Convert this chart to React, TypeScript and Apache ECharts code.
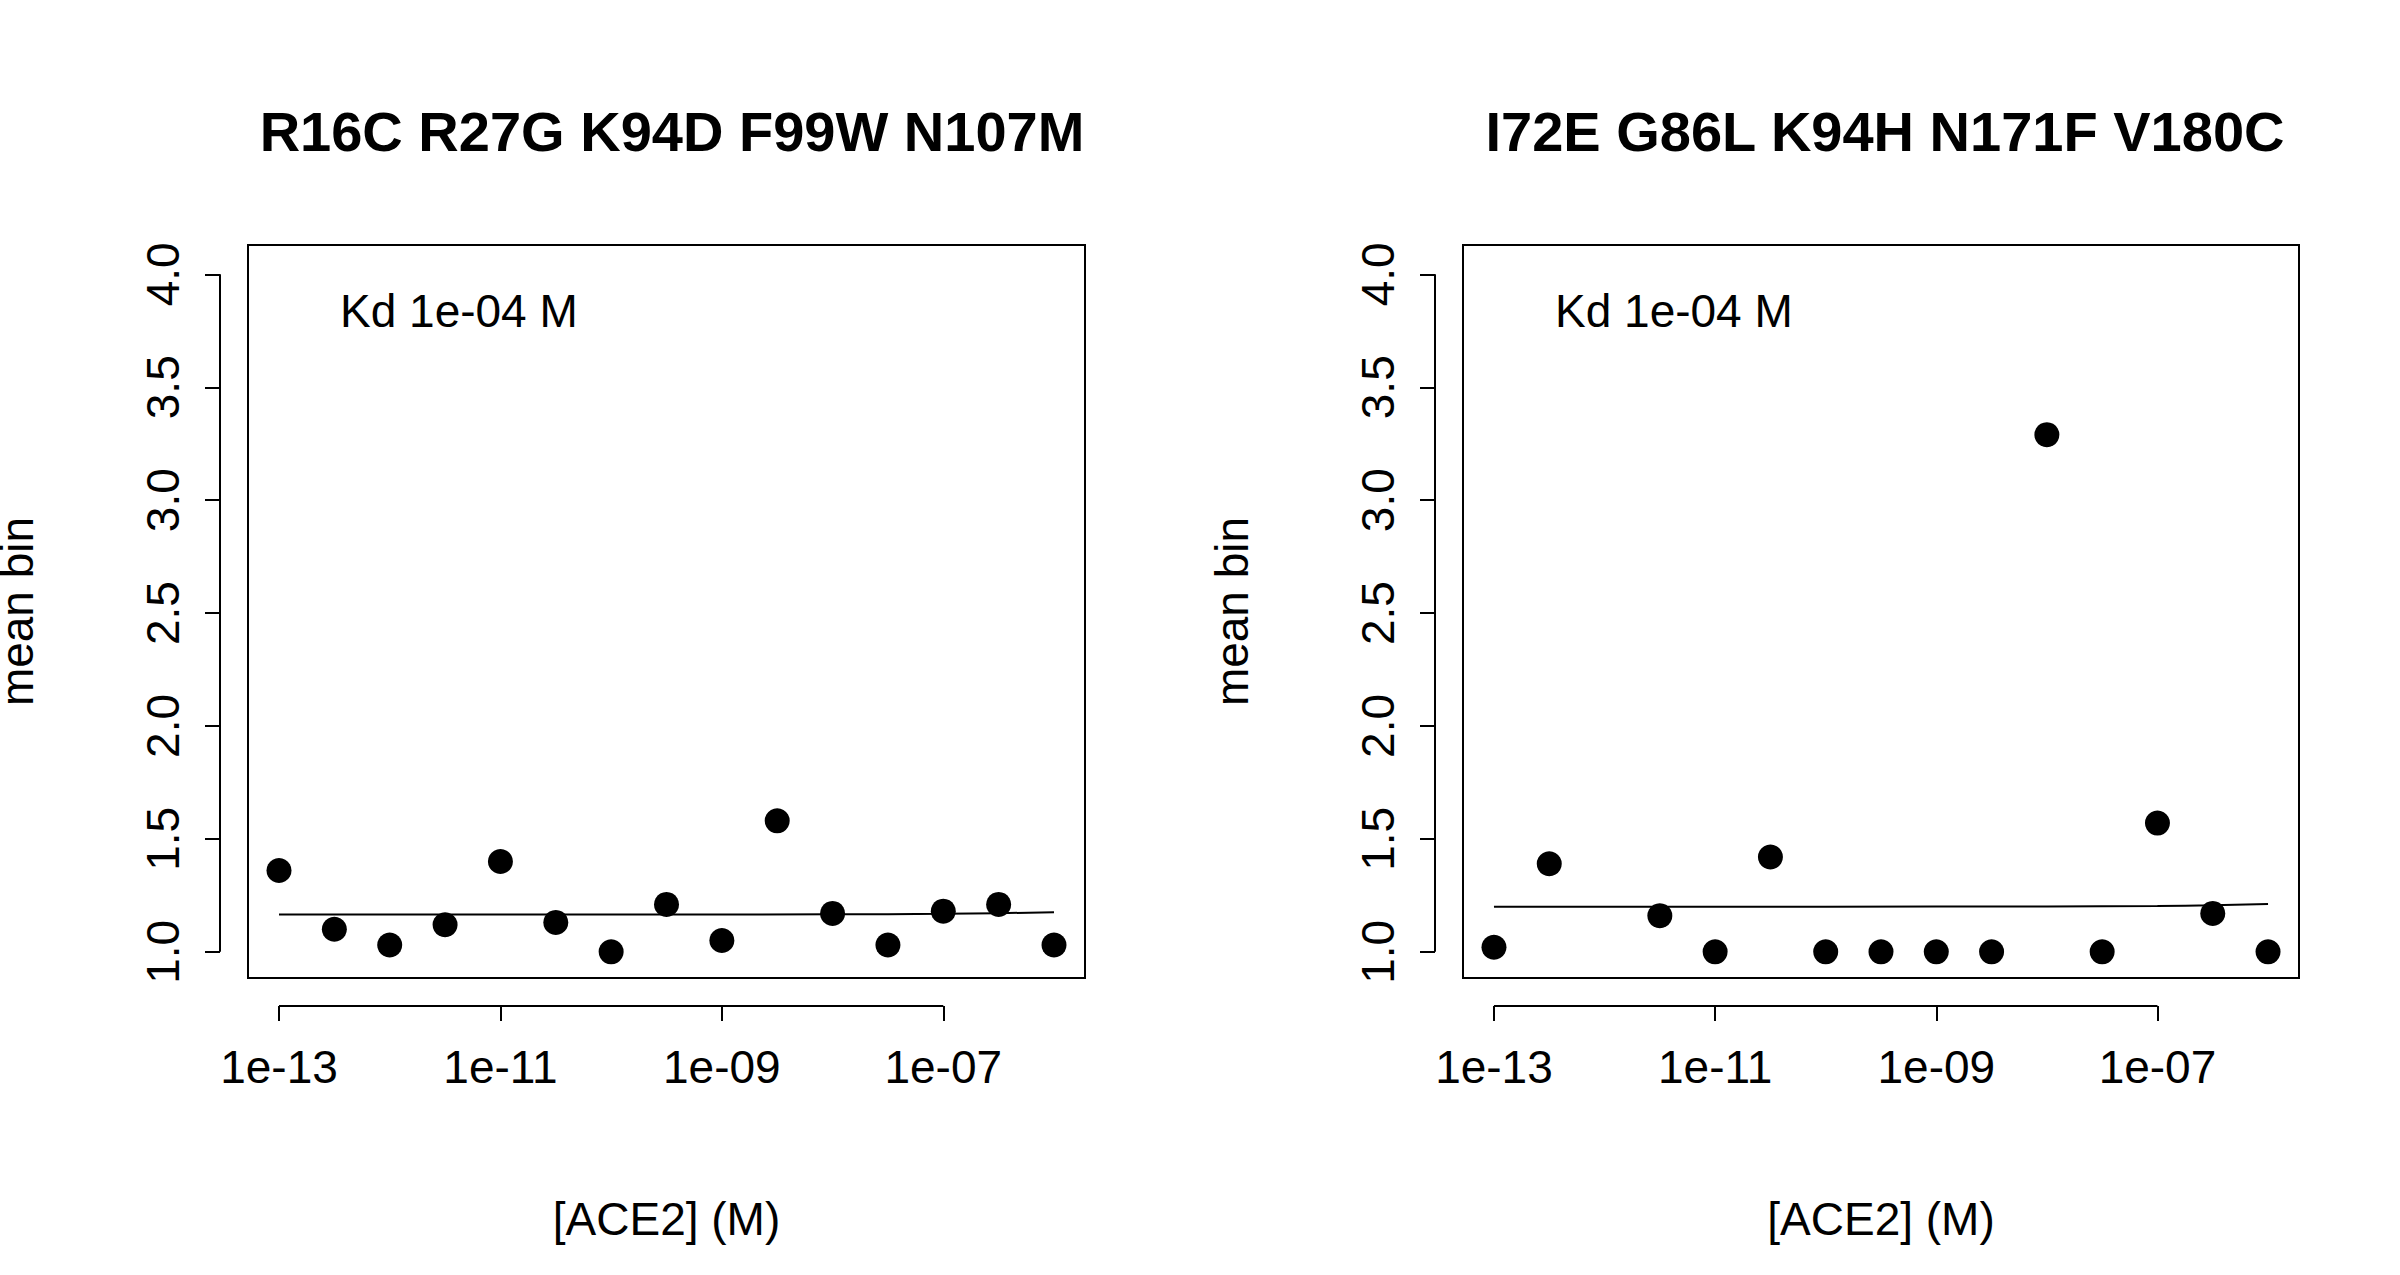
import React, { useEffect, useRef } from 'react';
import * as echarts from 'echarts';

// log10 of [ACE2] (M)
const leftExp = [-13, -12.5, -12, -11.5, -11, -10.5, -10, -9.5, -9, -8.5, -8, -7.5, -7, -6.5, -6];
const leftBin = [1.36, 1.10, 1.03, 1.12, 1.40, 1.13, 1.00, 1.21, 1.05, 1.58, 1.17, 1.03, 1.18, 1.21, 1.03];
const rightExp = [-13, -12.5, -11.5, -11, -10.5, -10, -9.5, -9, -8.5, -8, -7.5, -7, -6.5, -6];
const rightBin = [1.02, 1.39, 1.16, 1.00, 1.42, 1.00, 1.00, 1.00, 1.00, 3.29, 1.00, 1.57, 1.17, 1.00];
const fitExp = [-13, -10, -8, -7, -6.5, -6];
const leftFit = [1.165, 1.165, 1.166, 1.168, 1.171, 1.175];
const rightFit = [1.200, 1.200, 1.201, 1.203, 1.206, 1.212];
const titles = ['R16C R27G K94D F99W N107M', 'I72E G86L K94H N171F V180C'];
const kdLabel = 'Kd 1e-04 M';
const xTicks = [-13, -11, -9, -7];
const yTicks = [1, 1.5, 2, 2.5, 3, 3.5, 4];

const FONT = 'Liberation Sans, Arial, sans-serif';

const App: React.FC = () => {
  const ref = useRef<HTMLDivElement>(null);

  useEffect(() => {
    document.body.style.margin = '0';
    const chart = echarts.init(ref.current!, undefined, { renderer: 'svg' });
    const grids = [
      { left: 248, top: 245, width: 837, height: 733 },
      { left: 1463, top: 245, width: 836, height: 733 },
    ];
    const xAxis = grids.map((_, i) => ({
      type: 'value', gridIndex: i, min: -13.28, max: -5.72, offset: 28,
      axisLine: { show: false }, splitLine: { show: false },
      axisTick: { show: true, length: 15, lineStyle: { color: '#000', width: 2 }, customValues: xTicks },
      axisLabel: {
        customValues: xTicks, color: '#000', fontSize: 46, fontFamily: FONT, margin: 38,
        formatter: (v: number) => '1e-' + String(-v).padStart(2, '0'),
      },
      name: '[ACE2] (M)', nameLocation: 'middle', nameGap: 190,
      nameTextStyle: { color: '#000', fontSize: 46, fontFamily: FONT },
    }));
    const yAxis = grids.map((_, i) => ({
      type: 'value', gridIndex: i, min: 0.884, max: 4.13, offset: 28,
      axisLine: { show: false }, splitLine: { show: false },
      axisTick: { show: true, length: 15, lineStyle: { color: '#000', width: 2 }, customValues: yTicks },
      axisLabel: {
        customValues: yTicks, color: '#000', fontSize: 46, fontFamily: FONT, margin: 34, rotate: 90,
        formatter: (v: number) => v.toFixed(1),
      },
      name: 'mean bin', nameLocation: 'middle', nameGap: 180,
      nameTextStyle: { color: '#000', fontSize: 46, fontFamily: FONT },
    }));
    const scatter = (i: number, xs: number[], ys: number[]) => ({
      type: 'scatter', xAxisIndex: i, yAxisIndex: i, symbolSize: 25,
      itemStyle: { color: '#000', opacity: 1 }, data: xs.map((x, k) => [x, ys[k]]),
    });
    const fit = (i: number, ys: number[]) => ({
      type: 'line', xAxisIndex: i, yAxisIndex: i, showSymbol: false, smooth: true,
      lineStyle: { color: '#000', width: 2 }, data: fitExp.map((x, k) => [x, ys[k]]),
    });
    chart.setOption({
      animation: false,
      backgroundColor: '#fff',
      title: titles.map((t, i) => ({
        text: t, left: i === 0 ? 667 : 1880, top: 98, textAlign: 'center',
        textStyle: { fontSize: 56, fontWeight: 'bold', color: '#000', fontFamily: FONT },
      })),
      grid: grids.map(g => ({
        ...g, show: true, borderColor: '#000', borderWidth: 2, backgroundColor: 'transparent',
        containLabel: false, outerBoundsMode: 'none',
      })),
      xAxis, yAxis,
      series: [scatter(0, leftExp, leftBin), fit(0, leftFit), scatter(1, rightExp, rightBin), fit(1, rightFit)],
    });

    const lines: any[] = [];
    grids.forEach((g, i) => {
      const a = chart.convertToPixel({ xAxisIndex: i, yAxisIndex: i }, [xTicks[0], yTicks[0]]);
      const b = chart.convertToPixel({ xAxisIndex: i, yAxisIndex: i }, [xTicks[xTicks.length - 1], yTicks[yTicks.length - 1]]);
      const by = g.top + g.height + 28;
      const lx = g.left - 28;
      lines.push({ type: 'line', shape: { x1: a[0], y1: by, x2: b[0], y2: by }, style: { stroke: '#000', lineWidth: 2 } });
      lines.push({ type: 'line', shape: { x1: lx, y1: a[1], x2: lx, y2: b[1] }, style: { stroke: '#000', lineWidth: 2 } });
      lines.push({
        type: 'text', x: g.left + 92, y: g.top + 66,
        style: { text: kdLabel, fontSize: 46, fontFamily: FONT, fill: '#000', textVerticalAlign: 'middle' },
      });
    });
    chart.setOption({ graphic: lines });

    return () => chart.dispose();
  }, []);

  return <div ref={ref} style={{ width: '2400px', height: '1275px' }} />;
};

export default App;
